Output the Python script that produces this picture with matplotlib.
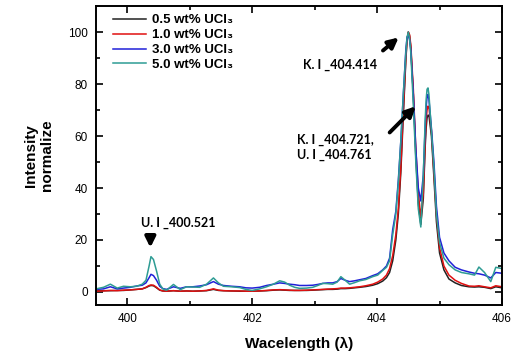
import matplotlib
matplotlib.use("Agg")
import matplotlib.pyplot as plt
from matplotlib.ticker import MultipleLocator

plt.rcParams['font.family'] = ['Liberation Sans', 'DejaVu Sans']

wavelength = [399.50, 399.62, 399.73, 399.84, 399.94, 400.05, 400.15, 400.24, 400.30, 400.35,
              400.38, 400.42, 400.47, 400.52, 400.57, 400.63, 400.74, 400.85, 400.95, 401.05,
              401.16, 401.27, 401.38, 401.46, 401.54, 401.67, 401.80, 401.90, 402.00, 402.12,
              402.23, 402.34, 402.44, 402.52, 402.60, 402.68, 402.76, 402.87, 402.97, 403.05,
              403.13, 403.21, 403.29, 403.36, 403.42, 403.49, 403.56, 403.64, 403.72, 403.82,
              403.93, 404.01, 404.09, 404.15, 404.20, 404.25, 404.30, 404.34, 404.38, 404.42,
              404.46, 404.48, 404.50, 404.52, 404.54, 404.58, 404.62, 404.66, 404.70, 404.74,
              404.77, 404.785, 404.80, 404.815, 404.83, 404.87, 404.91, 404.95, 405.00, 405.07,
              405.15, 405.25, 405.35, 405.47, 405.56, 405.63, 405.72, 405.82, 405.90, 406.00]

ucl3_05 = [0.4, 0.5, 0.5, 0.6, 0.6, 0.8, 1.0, 1.2, 1.7, 2.3,
           2.5, 2.4, 1.6, 0.7, 0.4, 0.3, 0.5, 0.3, 0.4, 0.3,
           0.4, 0.5, 1.0, 0.6, 0.5, 0.4, 0.3, 0.3, 0.3, 0.4,
           0.5, 0.7, 0.8, 0.7, 0.6, 0.6, 0.6, 0.6, 0.7, 0.8,
           0.9, 1.0, 1.0, 1.1, 1.3, 1.3, 1.4, 1.6, 1.8, 2.1,
           2.6, 3.2, 4.2, 5.5, 7.5, 12, 20, 30, 46, 68,
           89, 97, 100, 98.5, 94, 76, 52, 34, 26, 36,
           56, 63, 67, 68, 68, 60, 44, 27, 15, 8.5,
           5.0, 3.5, 2.5, 2.0, 1.9, 2.0, 1.8, 1.3, 2.0, 1.6]

ucl3_10 = [0.3, 0.4, 0.6, 0.5, 0.7, 0.8, 1.0, 1.2, 1.8, 2.5,
           2.7, 2.6, 1.8, 0.8, 0.4, 0.3, 0.5, 0.3, 0.4, 0.3,
           0.4, 0.6, 1.2, 0.7, 0.5, 0.4, 0.4, 0.3, 0.3, 0.4,
           0.6, 0.8, 0.9, 0.8, 0.7, 0.6, 0.6, 0.7, 0.8, 0.9,
           1.0, 1.1, 1.2, 1.3, 1.5, 1.5, 1.6, 1.8, 2.0, 2.4,
           3.0, 3.8, 5.0, 6.5, 9, 14, 22, 32, 48, 70,
           90, 97, 100, 99, 95, 78, 55, 38, 29, 38,
           58, 66, 70, 71.5, 71, 62, 46, 30, 17, 10,
           6.5, 4.5, 3.3, 2.3, 2.2, 2.4, 2.0, 1.6, 2.4, 2.0]

ucl3_30 = [1.0, 1.2, 2.0, 1.2, 1.5, 1.8, 2.3, 2.6, 3.5, 5.5,
           6.8, 6.3, 4.5, 2.2, 1.3, 1.0, 2.0, 1.4, 2.0, 2.0,
           2.3, 2.8, 4.0, 3.0, 2.5, 2.2, 2.0, 1.6, 1.5, 1.8,
           2.5, 3.0, 3.5, 3.3, 3.0, 2.8, 2.5, 2.5, 2.6, 2.9,
           3.3, 3.5, 3.5, 4.0, 5.2, 4.5, 4.0, 4.3, 4.7, 5.2,
           6.3, 7.0, 8.5, 10, 13, 24, 31, 43, 58, 76,
           93, 98, 99, 97, 93, 76, 55, 40, 35, 45,
           64, 71, 75, 76, 74, 63, 50, 33, 21, 15,
           12, 9.5, 8.5, 7.7, 7.2, 7.0, 6.5, 5.4, 7.5, 7.2]

ucl3_50 = [1.2, 1.8, 3.0, 1.5, 2.2, 2.0, 2.2, 3.0, 4.5, 10.0,
           13.6, 12.5, 8.0, 3.0, 1.2, 0.7, 2.9, 0.9, 2.0, 1.9,
           1.8, 3.0, 5.4, 3.5, 2.2, 2.0, 1.7, 1.0, 0.6, 1.2,
           2.0, 3.0, 4.3, 3.8, 2.6, 1.8, 1.4, 1.5, 1.8, 2.5,
           3.3, 3.2, 3.0, 3.8, 5.9, 4.5, 3.0, 3.6, 4.3, 4.8,
           5.9, 6.5, 8.3, 9.5, 12, 22, 30, 42, 58, 76,
           92, 98, 100, 97.5, 92, 72, 50, 32, 25, 45,
           66, 74, 78, 78.5, 76, 62, 48, 30, 19, 13,
           10.5, 8.5, 7.5, 7.0, 6.5, 9.6, 7.5, 4.0, 9.5, 9.0]

labels = ["0.5 wt% UCl₃", "1.0 wt% UCl₃", "3.0 wt% UCl₃", "5.0 wt% UCl₃"]
colors = ["#222222", "#e01010", "#2020d8", "#2e9c94"]

fig = plt.figure(figsize=(5.12, 3.56), dpi=100)
ax = fig.add_axes([0.1875, 0.1433, 0.793, 0.8397])

for series, label, color in zip([ucl3_05, ucl3_10, ucl3_30, ucl3_50], labels, colors):
    ax.plot(wavelength, series, color=color, lw=1.1, label=label)

ax.set_xlim(399.5, 406)
ax.set_ylim(-5, 110)
ax.xaxis.set_major_locator(MultipleLocator(2))
ax.xaxis.set_minor_locator(MultipleLocator(1))
ax.yaxis.set_major_locator(MultipleLocator(20))
ax.yaxis.set_minor_locator(MultipleLocator(10))
ax.tick_params(which='both', direction='in', top=True, right=True, labelsize=8.5, width=1.2)
ax.tick_params(which='major', length=5, pad=6)
ax.tick_params(which='minor', length=3)
for sp in ax.spines.values():
    sp.set_linewidth(1.4)

ax.set_xlabel("Wacelength (λ)", fontsize=11, fontweight='bold', labelpad=8)
ax.set_ylabel("Intensity\nnormalize", fontsize=11, fontweight='bold', labelpad=10)

leg = ax.legend(loc='upper left', bbox_to_anchor=(0.017, 1.008), frameon=False,
                handlelength=2.5, handletextpad=0.45, labelspacing=0.2,
                borderaxespad=0.2, borderpad=0.6,
                prop={'weight': 'bold', 'size': 9.5})

arrow = dict(arrowstyle='-|>', lw=2.8, color='black', mutation_scale=15)
note_font = dict(fontsize=9, fontweight='bold', family=['Lato', 'DejaVu Sans'])

ax.annotate("", xy=(404.38, 98.6), xytext=(404.06, 92.2), arrowprops=arrow)
ax.text(403.4, 87.3, "K. I _404.414", ha='center', va='center', **note_font)

ax.annotate("", xy=(404.65, 72.2), xytext=(404.17, 60.6), arrowprops=arrow)
ax.text(402.72, 55.6, "K. I _404.721,\nU. I _404.761", ha='left', va='center',
        linespacing=1.3, **note_font)

ax.annotate("", xy=(400.37, 16.0), xytext=(400.37, 22.5), arrowprops=arrow)
ax.text(400.22, 26.5, "U. I _400.521", ha='left', va='center', **note_font)

fig.savefig("out.png", dpi=100)
